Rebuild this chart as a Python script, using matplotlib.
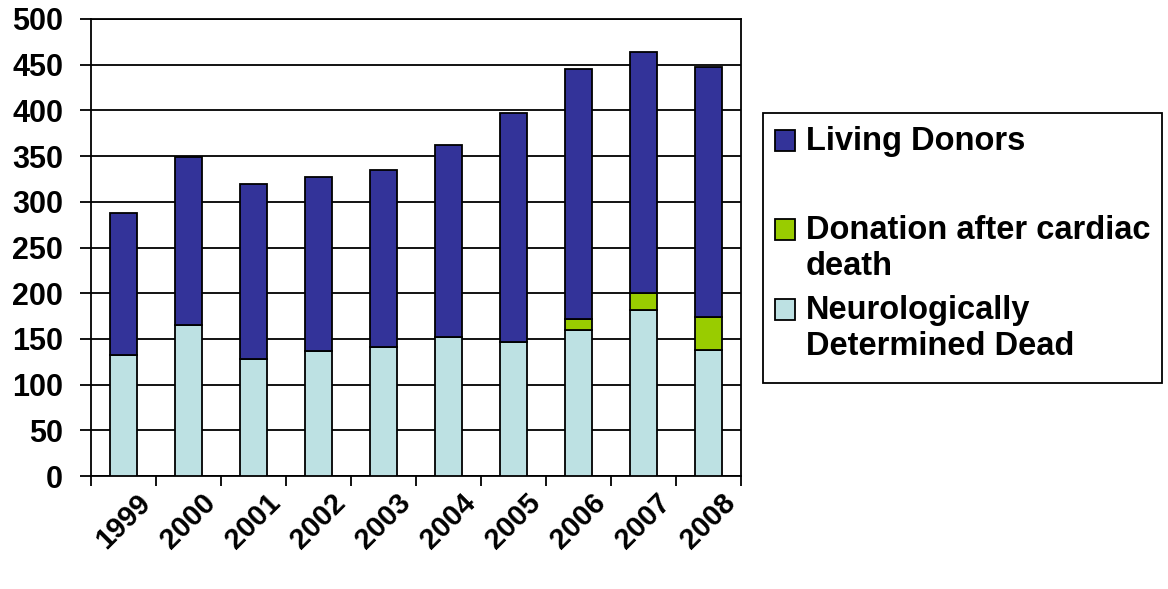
import numpy as np
import matplotlib
matplotlib.use("Agg")
import matplotlib.pyplot as plt
from matplotlib.patches import Rectangle

plt.rcParams['font.family'] = ['Liberation Sans', 'DejaVu Sans']
plt.rcParams['font.weight'] = 'bold'

## Transplant donors per year
years = ['1999', '2000', '2001', '2002', '2003', '2004', '2005', '2006', '2007', '2008']
ndd = [132, 165, 128, 137, 141, 152, 147, 160, 182, 138]
dcd = [0, 0, 0, 0, 0, 0, 0, 12, 18, 36]
living = [156, 184, 192, 190, 194, 210, 250, 273, 264, 273]

names = ['Living Donors', 'Donation after cardiac\ndeath', 'Neurologically\nDetermined Dead']
colors = ['#333399', '#99CC00', '#BDE1E3']

W, H = 1168, 589
fig = plt.figure(figsize=(W / 100, H / 100), dpi=100)
ax = fig.add_axes([91 / W, 1 - 476 / H, 650 / W, 457 / H])

x = np.arange(len(years))
ndd = np.array(ndd)
dcd = np.array(dcd)
living = np.array(living)

bw = 0.43
b1 = ax.bar(x, ndd, bw, color=colors[2], edgecolor='black', linewidth=1.3, zorder=3)
b2 = ax.bar(x, dcd, bw, bottom=ndd, color=colors[1], edgecolor='black', linewidth=1.3, zorder=3)
for r, v in zip(b2.patches, dcd):
    r.set_visible(v > 0)
b3 = ax.bar(x, living, bw, bottom=ndd + dcd, color=colors[0], edgecolor='black', linewidth=1.3, zorder=3)

ax.set_xlim(-0.5, len(years) - 0.5)
ax.set_ylim(0, 500)
ax.set_yticks(np.arange(0, 501, 50))
ax.yaxis.grid(True, color='black', linewidth=1.3, zorder=0)
ax.tick_params(axis='y', direction='out', length=8, width=1.3, labelsize=22, pad=12)

## category boundaries get the tick marks, labels sit in the middle
ax.set_xticks(np.arange(-0.5, len(years)), minor=True)
ax.set_xticks(x)
ax.set_xticklabels(years, rotation=45, ha='center', va='top', fontsize=21)
ax.tick_params(axis='x', which='major', length=0, pad=9)
ax.tick_params(axis='x', which='minor', direction='out', length=7, width=1.3)
for s in ax.spines.values():
    s.set_linewidth(1.3)
    s.set_color('black')

## legend box drawn by hand so the swatch sits on the first line
fig.add_artist(Rectangle((763 / W, 1 - 383 / H), 399 / W, 270 / H,
                         transform=fig.transFigure, fill=False,
                         edgecolor='black', linewidth=1.3))
rows = [(141, 0), (230, 1), (310, 2)]
for ypix, i in rows:
    fig.add_artist(Rectangle((775 / W, 1 - (ypix + 10) / H), 20 / W, 21 / H,
                             transform=fig.transFigure, facecolor=colors[i],
                             edgecolor='black', linewidth=1.3))
    fig.text(806 / W, 1 - (ypix - 15) / H, names[i], fontsize=23.5,
             fontweight='bold', va='top', ha='left', linespacing=1.2)

fig.savefig('out.png', dpi=100)
